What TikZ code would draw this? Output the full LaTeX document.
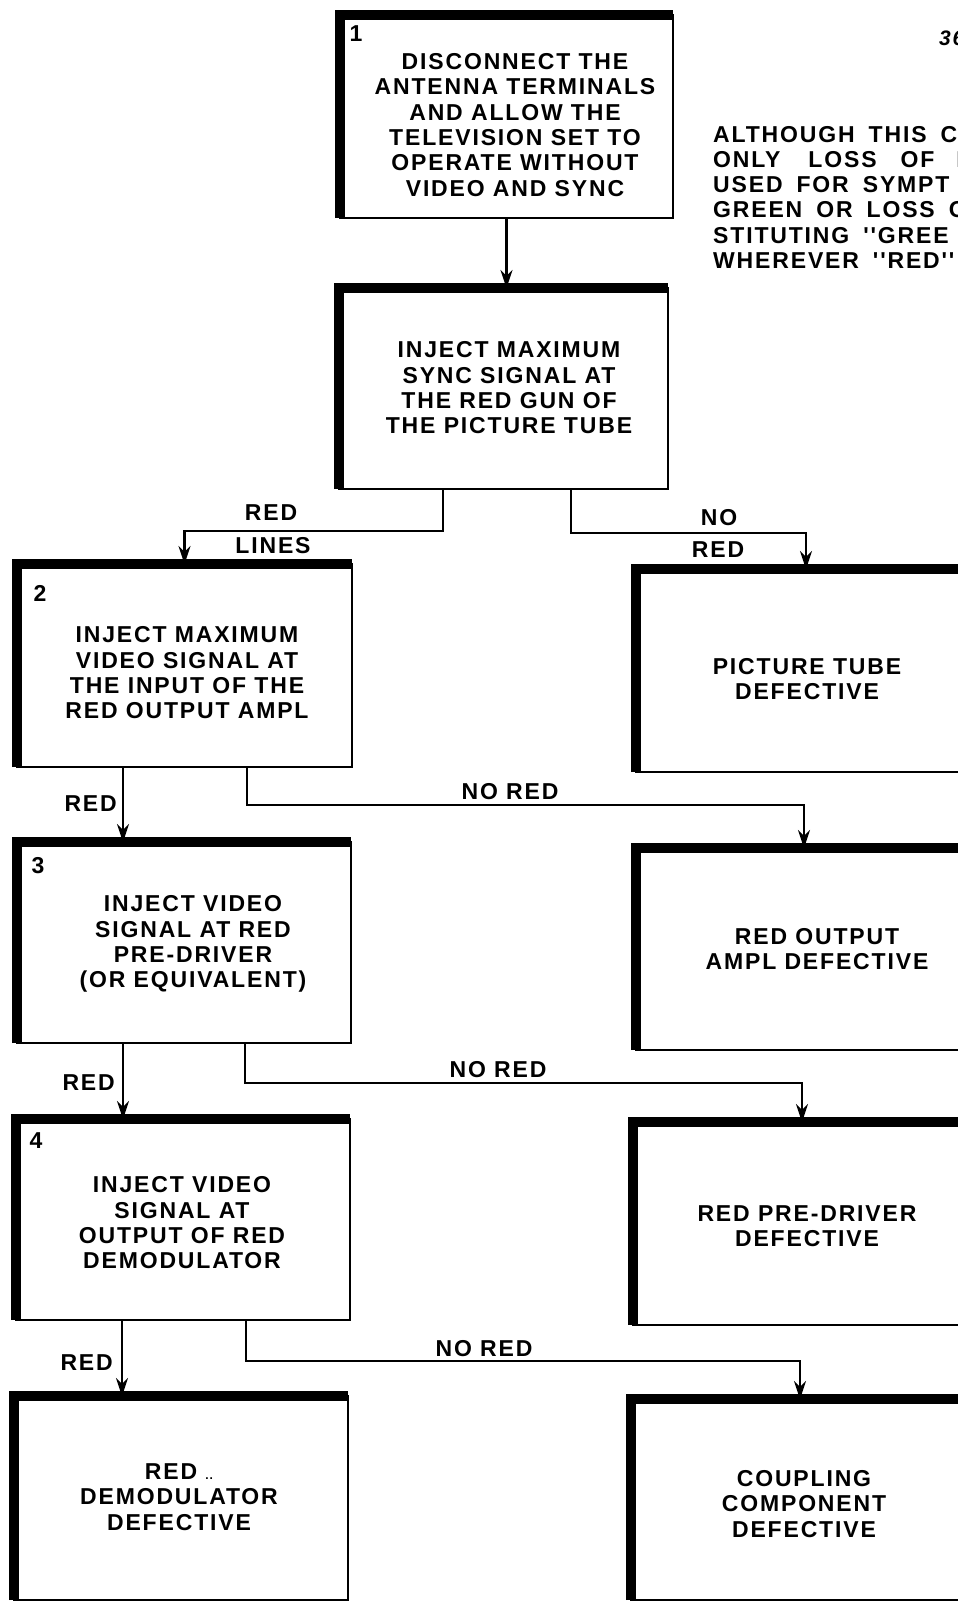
\documentclass[tikz,border=0pt]{standalone}
\usepackage{fontspec}
\setmainfont{Liberation Sans}[LetterSpace=8]
\newfontfamily\notefont{Liberation Sans}[LetterSpace=8, WordSpace=1.7]
\usetikzlibrary{arrows.meta}

\begin{document}
\begin{tikzpicture}[x=1pt, y=-1pt,
    every node/.style={font=\bfseries\fontsize{23}{25.3}\selectfont, inner sep=0pt},
    chart/.style={draw, line width=2.5pt, rectangle, anchor=north west, outer sep=0pt},
    heavy/.style={line width=10pt, line join=miter},
    link/.style={line width=2.6pt},
    arr/.style={link, -{Stealth[length=18pt,width=12pt]}},
    txt/.style={align=center}]
    \useasboundingbox (0,0) rectangle (958,1607);

    % Boxes
    \node[chart, minimum width=333, minimum height=203] (b1) at (340,15) {};
    \node[chart, minimum width=329, minimum height=201] (sync) at (339,288) {};
    \node[chart, minimum width=335, minimum height=203] (b2) at (17,564) {};
    \node[chart, minimum width=360, minimum height=203] (tube) at (636,569) {};
    \node[chart, minimum width=334, minimum height=201] (b3) at (17,842) {};
    \node[chart, minimum width=360, minimum height=202] (outamp) at (636,848) {};
    \node[chart, minimum width=334, minimum height=201] (b4) at (16,1119) {};
    \node[chart, minimum width=360, minimum height=203] (predrv) at (633,1122) {};
    \node[chart, minimum width=334, minimum height=204] (demod) at (14,1396) {};
    \node[chart, minimum width=360, minimum height=201] (coupl) at (631,1399) {};

    % Heavy top and left edges
    \foreach \b in {b1,sync,b2,tube,b3,outamp,b4,predrv,demod,coupl}
        \draw[heavy] (\b.south west) -- (\b.north west) -- (\b.north east);

    % Step numbers
    \node (n1) at (356,34) {1};
    \node (n2) at (40,593) {2};
    \node (n3) at (38,866) {3};
    \node (n4) at (36,1141) {4};

    % Box texts
    \node[txt] (t1) at (515,125) {DISCONNECT THE\\ANTENNA TERMINALS\\AND ALLOW THE\\TELEVISION SET TO\\OPERATE WITHOUT\\VIDEO AND SYNC};
    \node[txt] (tsync) at (509,388) {INJECT MAXIMUM\\SYNC SIGNAL AT\\THE RED GUN OF\\THE PICTURE TUBE};
    \node[txt] (t2) at (187,673) {INJECT MAXIMUM\\VIDEO SIGNAL AT\\THE INPUT OF THE\\RED OUTPUT AMPL};
    \node[txt] (ttube) at (807,679) {PICTURE TUBE\\DEFECTIVE};
    \node[txt] (t3) at (193,944) {INJECT VIDEO\\SIGNAL AT RED\\PRE-DRIVER\\(OR EQUIVALENT)};
    \node[txt] (toutamp) at (817,949) {RED OUTPUT\\AMPL DEFECTIVE};
    \node[txt] (t4) at (182,1223) {INJECT VIDEO\\SIGNAL AT\\OUTPUT OF RED\\DEMODULATOR};
    \node[txt] (tpredrv) at (807,1226) {RED PRE-DRIVER\\DEFECTIVE};
    \node[txt] (tdemod) at (179,1497) {RED {\fontsize{12}{12}\selectfont..}\\DEMODULATOR\\DEFECTIVE};
    \node[txt] (tcoupl) at (804,1504) {COUPLING\\COMPONENT\\DEFECTIVE};

    % Note at top right
    \node[anchor=base west, font=\bfseries\itshape\fontsize{21}{25}\selectfont] (page) at (939,45) {36};
    \foreach \ln [count=\i] in {ALTHOUGH THIS C,{ONLY\hspace{14pt} LOSS\hspace{10pt} OF\hspace{8pt} R},USED FOR SYMPT,GREEN OR LOSS O,STITUTING ''GREE,WHEREVER ''RED''}
        \node[anchor=base west, font=\notefont\bfseries\fontsize{23}{25.3}\selectfont] (note\i) at (713,{142+25.3*(\i-1)}) {\ln};

    % Junctions
    \coordinate (j0) at (443,531);
    \coordinate (k0) at (571,533);
    \coordinate (m0) at (806,533);
    \coordinate (j2) at (247,805);
    \coordinate (k2) at (804,805);
    \coordinate (j3) at (245,1083);
    \coordinate (k3) at (802,1083);
    \coordinate (j4) at (246,1361);
    \coordinate (k4) at (800,1361);

    % Connectors
    \draw[arr] (b1.south) -- (b1.south |- sync.north);
    \draw[arr] (sync.south -| j0) -- (j0) -| (b2.north);
    \draw[arr] (sync.south -| k0) -- (k0) -- (m0) -- (m0 |- tube.north);
    \draw[arr] ([xshift=-61.5]b2.south) -- ([xshift=-61.5]b2.south |- b3.north);
    \draw[arr] (b2.south -| j2) -- (j2) -- (k2) -- (k2 |- outamp.north);
    \draw[arr] ([xshift=-61]b3.south) -- ([xshift=-61]b3.south |- b4.north);
    \draw[arr] (b3.south -| j3) -- (j3) -- (k3) -- (k3 |- predrv.north);
    \draw[arr] ([xshift=-61]b4.south) -- ([xshift=-61]b4.south |- demod.north);
    \draw[arr] (b4.south -| j4) -- (j4) -- (k4) -- (k4 |- coupl.north);

    % Connector labels
    \node (lred0) at (271,513) {RED};
    \node (llines) at (273,546) {LINES};
    \node (lno) at (719,518) {NO};
    \node (lnored0) at (718,550) {RED};
    \node[anchor=east] (lred2) at (117,804) {RED};
    \node (lnored2) at (510,792) {NO RED};
    \node[anchor=east] (lred3) at (115,1083) {RED};
    \node (lnored3) at (498,1070) {NO RED};
    \node[anchor=east] (lred4) at (113,1363) {RED};
    \node (lnored4) at (484,1349) {NO RED};
\end{tikzpicture}
\end{document}
